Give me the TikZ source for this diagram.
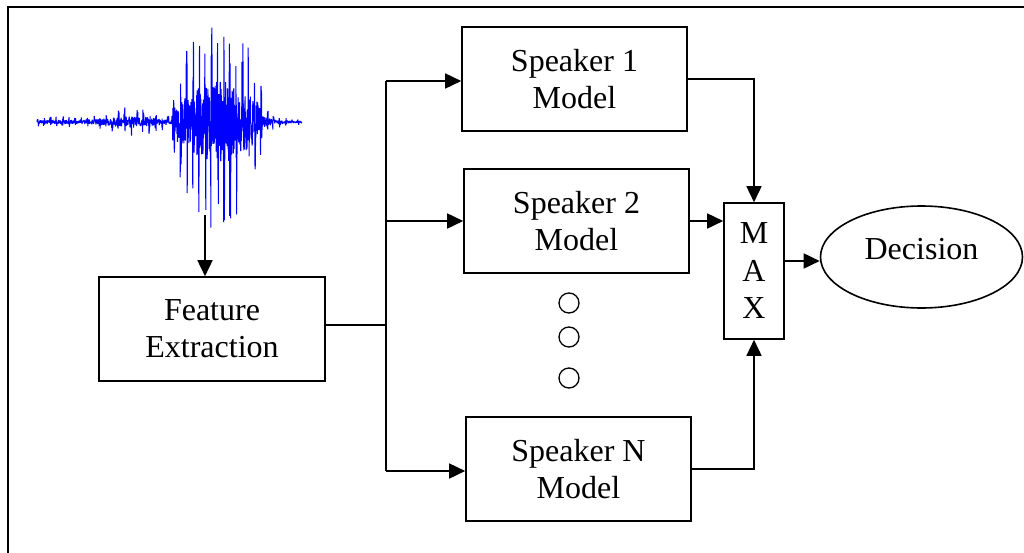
\documentclass[tikz,border=0pt]{standalone}
\usepackage{fontspec}
\setmainfont{Liberation Serif}
\usetikzlibrary{arrows.meta,shapes.geometric,calc}
\begin{document}
\begin{tikzpicture}[x=1pt,y=-1pt,
  ln/.style={line width=1.6pt},
  arr/.style={ln,-{Triangle[length=16pt,width=15pt]}},
  txt/.style={font=\fontsize{32}{37}\selectfont, align=center},
  blk/.style={draw, ln, rectangle, inner sep=0pt, txt},
  dot/.style={draw, circle, line width=1.3pt, minimum width=20pt, minimum height=18pt, inner sep=0pt},
  declare function={env(\t)=(\t<172)*(5+9*exp(-((\t-132)/28)^2)) + (\t>=172)*(\t<262)*(28+75*exp(-((\t-218)/38)^2)) + (\t>=262)*(14*exp(-max(\t-262,0)/10)+2.5);}
]
\useasboundingbox (0,0) rectangle (1024,553);
% frame
\draw[line width=2.4pt] (8,553) -- (8,7) -- (1024,7);
% waveform
\pgfmathsetseed{11}
\draw[blue, line width=1pt, line join=bevel] plot[domain=37:302, samples=1100]
  (\x, {122 + env(\x)*rand*(0.4 + 0.7*(mod(\x,6.2)<1.4))});
% nodes
\node[blk, minimum width=226pt, minimum height=104pt] (fe) at (212,329) {Feature\\Extraction};
\node[blk, minimum width=225pt, minimum height=104pt] (s1) at (574.5,79) {Speaker 1\\Model};
\node[blk, minimum width=225pt, minimum height=104pt] (s2) at (576.5,221) {Speaker 2\\Model};
\node[blk, minimum width=225pt, minimum height=104pt] (sN) at (578.5,469) {Speaker N\\Model};
\node[blk, minimum width=60pt, minimum height=136pt, font=\fontsize{32}{37.5}\selectfont] (max) at (754,271) {M\\A\\X};
\node[draw, ln, ellipse, inner sep=0pt, minimum width=202pt, minimum height=102pt, txt, text depth=15.5pt] (dec) at (921.5,257) {Decision};
\node[dot] (d1) at (569,303) {};
\node[dot] (d2) at (569,337) {};
\node[dot] (d3) at (569,378) {};
% coordinates
\coordinate (wv) at (205,215);
\coordinate (tTop) at (386,81);
\coordinate (tMid) at (386,325);
\coordinate (t2) at (386,221);
\coordinate (tBot) at (386,471);
\coordinate (mo) at (784,261);
% connectors
\draw[arr] (wv) -- (wv |- fe.north);
\draw[ln] (fe.east |- tMid) -- (tMid);
\draw[ln] (tTop) -- (tBot);
\draw[arr] (tTop) -- (tTop -| s1.west);
\draw[arr] (t2) -- (t2 -| s2.west);
\draw[arr] (tBot) -- (tBot -| sN.west);
\draw[arr] (s1.east) -| (max.north);
\draw[arr] (s2.east) -- (s2.east -| max.west);
\draw[arr] (sN.east) -| (max.south);
\draw[arr] (mo) -- (mo -| dec.west);
\end{tikzpicture}
\end{document}
